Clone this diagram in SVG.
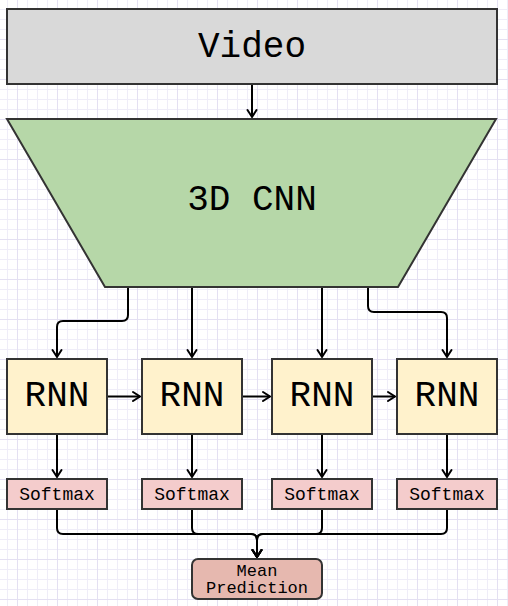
<svg xmlns="http://www.w3.org/2000/svg" width="508" height="606" viewBox="0 0 508 606">
  <defs>
    <pattern id="grid" patternUnits="userSpaceOnUse" x="17" y="39" width="40" height="40">
      <rect width="40" height="40" fill="#ffffff"/>
      <rect x="10" y="0" width="1" height="40" fill="#efedf8"/>
      <rect x="20" y="0" width="1" height="40" fill="#efedf8"/>
      <rect x="30" y="0" width="1" height="40" fill="#efedf8"/>
      <rect x="0" y="10" width="40" height="1" fill="#efedf8"/>
      <rect x="0" y="20" width="40" height="1" fill="#efedf8"/>
      <rect x="0" y="30" width="40" height="1" fill="#efedf8"/>
      <rect x="0" y="0" width="1" height="40" fill="#e4e0f2"/>
      <rect x="0" y="0" width="40" height="1" fill="#e4e0f2"/>
    </pattern>
    <marker id="arr" markerUnits="userSpaceOnUse" markerWidth="14" markerHeight="14" refX="0" refY="0" viewBox="-10 -7 14 14" orient="auto" overflow="visible">
      <path d="M-7,-4.5 L0,0 L-7,4.5" fill="none" stroke="#000" stroke-width="2" stroke-linejoin="miter" stroke-linecap="round"/>
    </marker>
  </defs>
  <style>
    .node { stroke: #333333; stroke-width: 2; }
    .mono { font-family: "Liberation Mono", "Courier New", monospace; fill: #000; text-anchor: middle; }
    .big { font-size: 36px; }
    .small { font-size: 18px; }
    .two { font-size: 17px; }
    .conn { fill: none; stroke: #000; stroke-width: 2; marker-end: url(#arr); }
  </style>
  <rect x="0" y="0" width="508" height="606" fill="url(#grid)"/>

  <g id="connectors">
    <path class="conn" d="M252,84 V117"/>
    <path class="conn" d="M128,287 V315 Q128,321 122,321 H63 Q57,321 57,327 V357"/>
    <path class="conn" d="M192,287 V357"/>
    <path class="conn" d="M322,287 V357"/>
    <path class="conn" d="M368,287 V306 Q368,312 374,312 H441 Q447,312 447,318 V357"/>
    <path class="conn" d="M107,396.5 H140"/>
    <path class="conn" d="M242,396.5 H270"/>
    <path class="conn" d="M372,396.5 H395"/>
    <path class="conn" d="M57,434 V477"/>
    <path class="conn" d="M192,434 V477"/>
    <path class="conn" d="M322,434 V477"/>
    <path class="conn" d="M447,434 V477"/>
    <path class="conn" d="M57,509 V528 Q57,534 63,534 H251 Q257,534 257,540 V557"/>
    <path class="conn" d="M192,509 V528 Q192,534 198,534 H251 Q257,534 257,540 V557"/>
    <path class="conn" d="M322,509 V528 Q322,534 316,534 H263 Q257,534 257,540 V557"/>
    <path class="conn" d="M447,509 V528 Q447,534 441,534 H263 Q257,534 257,540 V557"/>
  </g>

  <g id="video">
    <rect class="node" x="7" y="9" width="490" height="75" fill="#d9d9d9"/>
    <text class="mono big" x="252" y="57">Video</text>
  </g>

  <g id="cnn">
    <polygon class="node" points="7,119 496,119 398,287 105,287" fill="#b6d7a8"/>
    <text class="mono big" x="252" y="210">3D CNN</text>
  </g>

  <g id="rnn1">
    <rect class="node" x="7" y="359" width="100" height="75" fill="#fff2cc"/>
    <text class="mono big" x="57" y="406">RNN</text>
  </g>
  <g id="rnn2">
    <rect class="node" x="142" y="359" width="100" height="75" fill="#fff2cc"/>
    <text class="mono big" x="192" y="406">RNN</text>
  </g>
  <g id="rnn3">
    <rect class="node" x="272" y="359" width="100" height="75" fill="#fff2cc"/>
    <text class="mono big" x="322" y="406">RNN</text>
  </g>
  <g id="rnn4">
    <rect class="node" x="397" y="359" width="100" height="75" fill="#fff2cc"/>
    <text class="mono big" x="447" y="406">RNN</text>
  </g>

  <g id="softmax1">
    <rect class="node" x="7" y="479" width="100" height="30" fill="#f4cccc"/>
    <text class="mono small" x="57" y="499.5">Softmax</text>
  </g>
  <g id="softmax2">
    <rect class="node" x="142" y="479" width="100" height="30" fill="#f4cccc"/>
    <text class="mono small" x="192" y="499.5">Softmax</text>
  </g>
  <g id="softmax3">
    <rect class="node" x="272" y="479" width="100" height="30" fill="#f4cccc"/>
    <text class="mono small" x="322" y="499.5">Softmax</text>
  </g>
  <g id="softmax4">
    <rect class="node" x="397" y="479" width="100" height="30" fill="#f4cccc"/>
    <text class="mono small" x="447" y="499.5">Softmax</text>
  </g>

  <g id="mean">
    <rect class="node" x="192" y="559" width="130" height="40" rx="6" ry="6" fill="#e6b8af"/>
    <text class="mono two" x="257" y="575.5">Mean</text>
    <text class="mono two" x="257" y="593">Prediction</text>
  </g>
</svg>
